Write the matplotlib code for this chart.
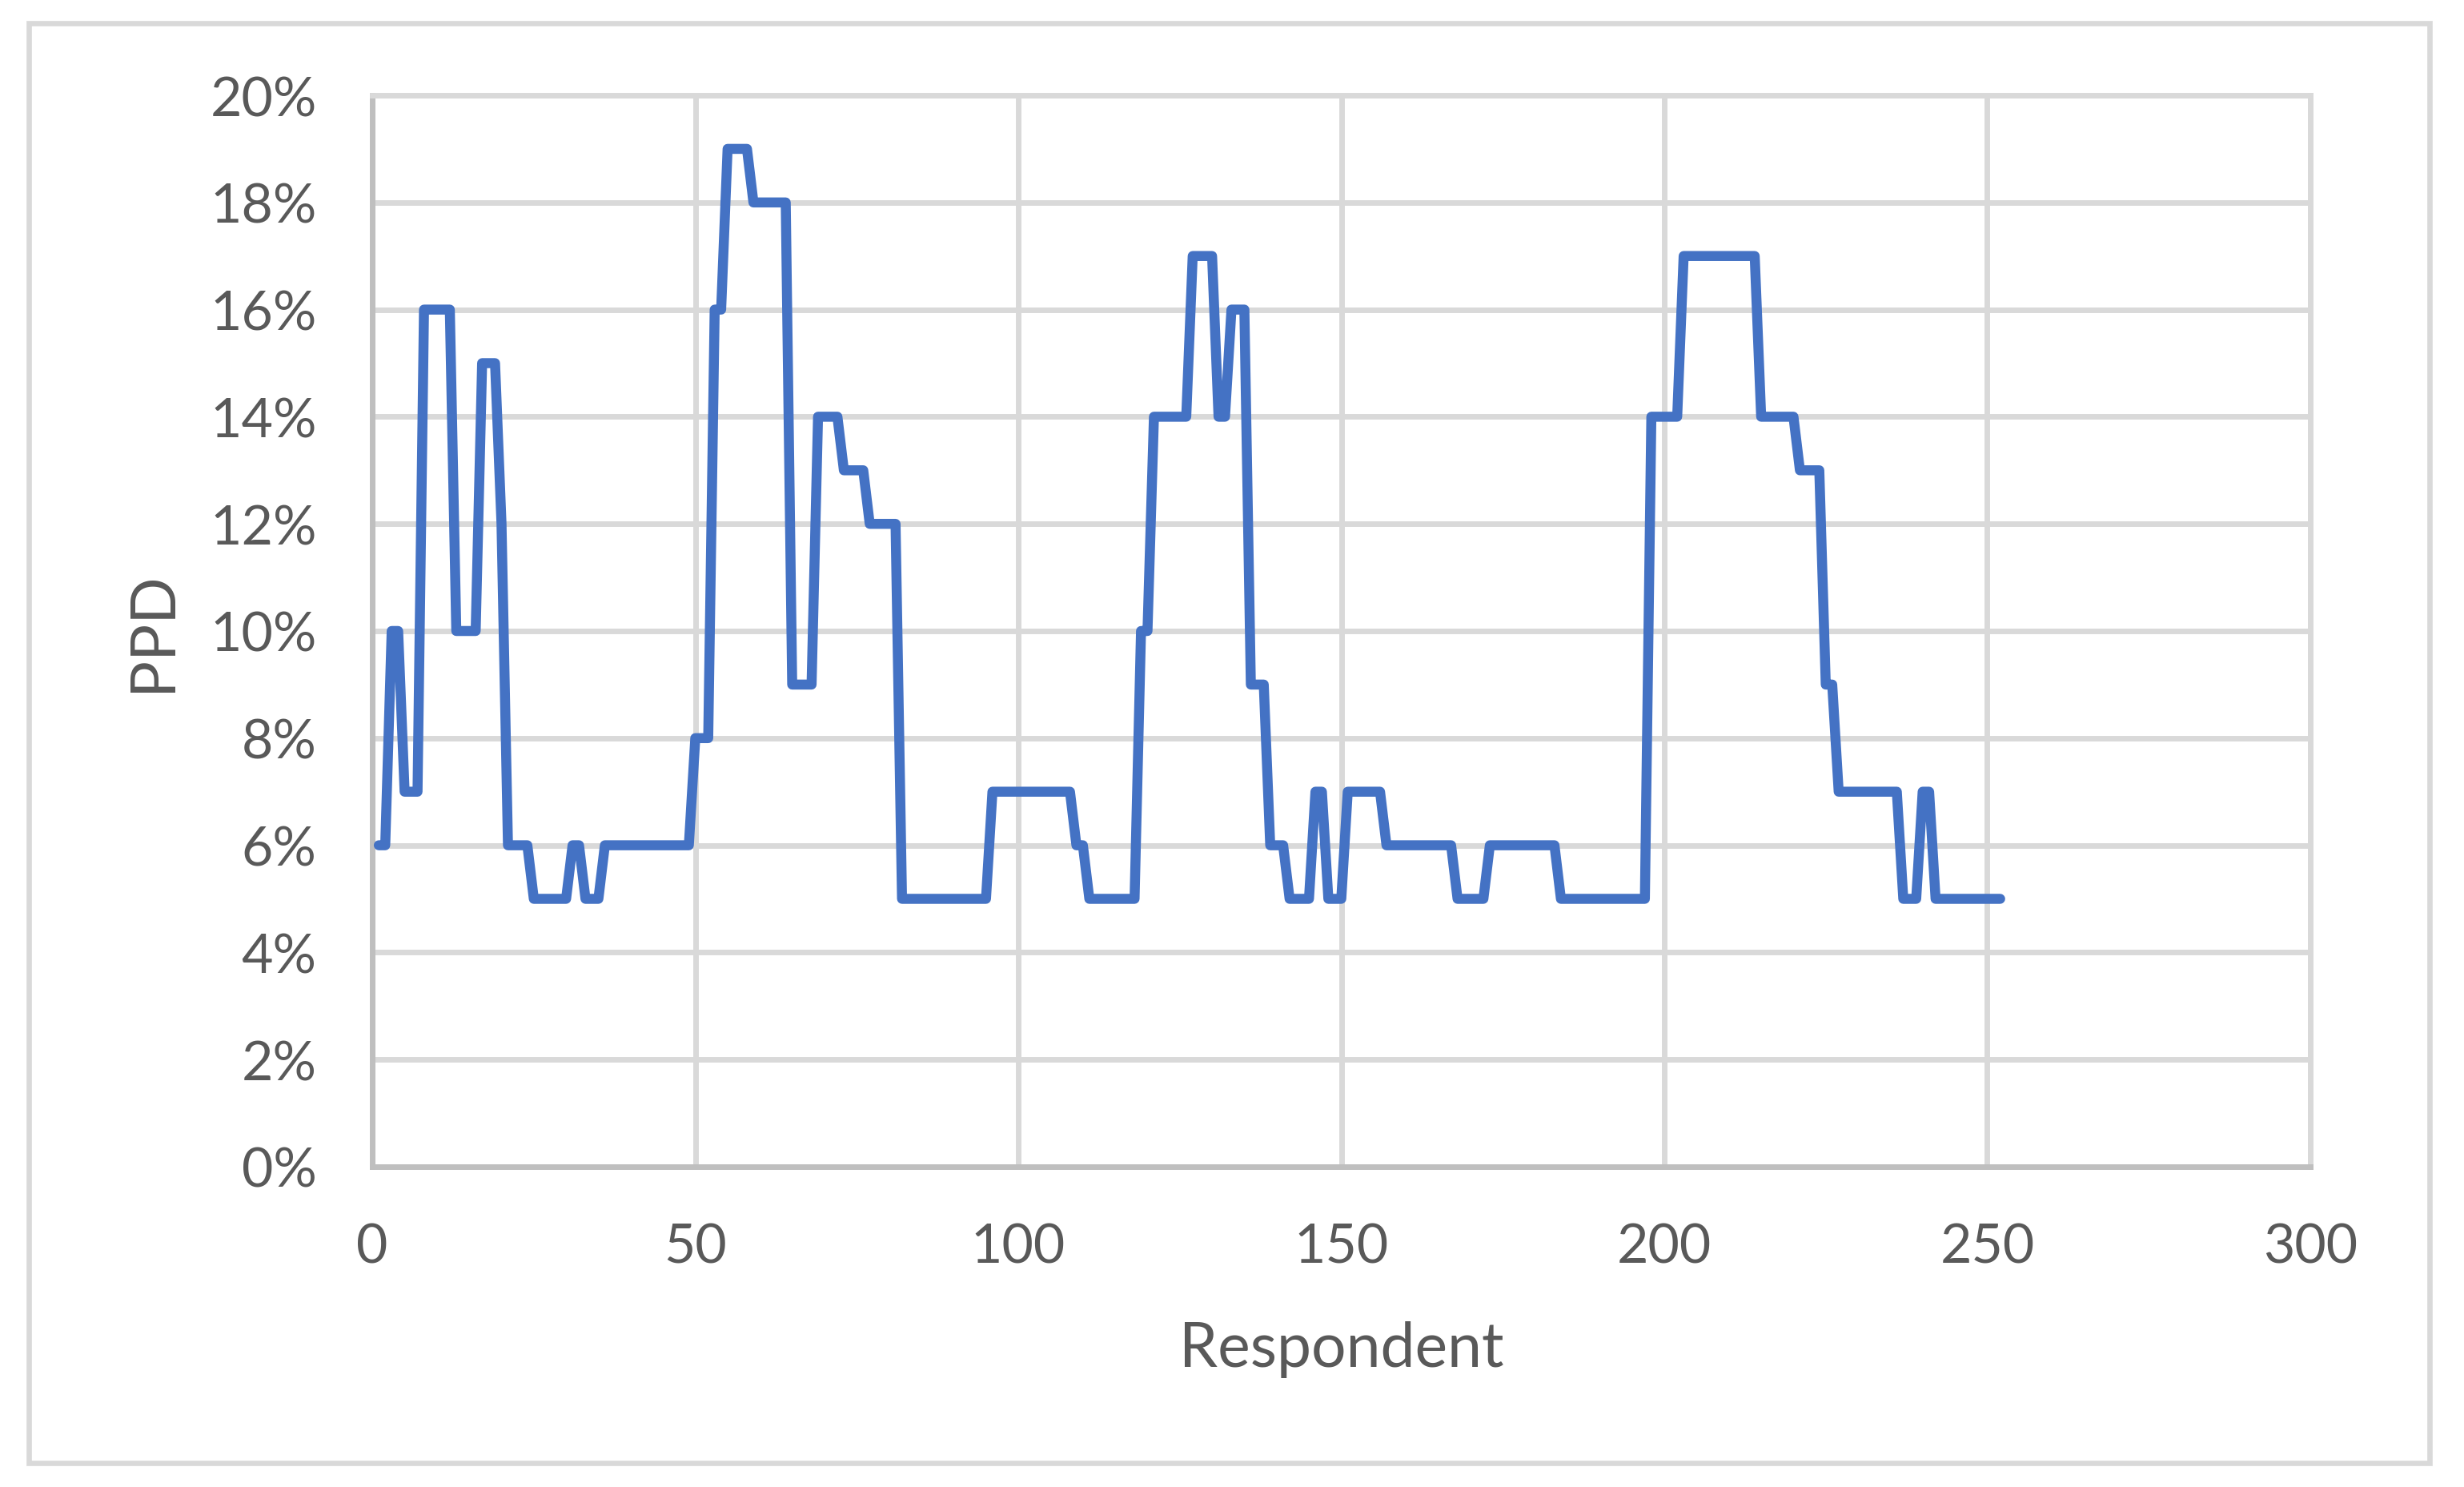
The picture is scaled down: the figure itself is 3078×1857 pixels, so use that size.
import numpy as np
import matplotlib
matplotlib.use("Agg")
import matplotlib.pyplot as plt
from matplotlib.patches import Rectangle
from matplotlib.ticker import PercentFormatter

# PPD (%) per respondent, 10 respondents per row
ppd = [
    6, 6, 10, 10, 7, 7, 7, 16, 16, 16,
    16, 16, 10, 10, 10, 10, 15, 15, 15, 12,
    6, 6, 6, 6, 5, 5, 5, 5, 5, 5,
    6, 6, 5, 5, 5, 6, 6, 6, 6, 6,
    6, 6, 6, 6, 6, 6, 6, 6, 6, 8,
    8, 8, 16, 16, 19, 19, 19, 19, 18, 18,
    18, 18, 18, 18, 9, 9, 9, 9, 14, 14,
    14, 14, 13, 13, 13, 13, 12, 12, 12, 12,
    12, 5, 5, 5, 5, 5, 5, 5, 5, 5,
    5, 5, 5, 5, 5, 7, 7, 7, 7, 7,
    7, 7, 7, 7, 7, 7, 7, 7, 6, 6,
    5, 5, 5, 5, 5, 5, 5, 5, 10, 10,
    14, 14, 14, 14, 14, 14, 17, 17, 17, 17,
    14, 14, 16, 16, 16, 9, 9, 9, 6, 6,
    6, 5, 5, 5, 5, 7, 7, 5, 5, 5,
    7, 7, 7, 7, 7, 7, 6, 6, 6, 6,
    6, 6, 6, 6, 6, 6, 6, 5, 5, 5,
    5, 5, 6, 6, 6, 6, 6, 6, 6, 6,
    6, 6, 6, 5, 5, 5, 5, 5, 5, 5,
    5, 5, 5, 5, 5, 5, 5, 14, 14, 14,
    14, 14, 17, 17, 17, 17, 17, 17, 17, 17,
    17, 17, 17, 17, 14, 14, 14, 14, 14, 14,
    13, 13, 13, 13, 9, 9, 7, 7, 7, 7,
    7, 7, 7, 7, 7, 7, 5, 5, 5, 7,
    7, 5, 5, 5, 5, 5, 5, 5, 5, 5,
    5, 5,
]
respondents = np.arange(1, len(ppd) + 1)

x_ticks = [0, 50, 100, 150, 200, 250, 300]
y_ticks = [0, 2, 4, 6, 8, 10, 12, 14, 16, 18, 20]

TEXT = "#595959"
GRID = "#D9D9D9"
AXIS = "#BFBFBF"
BLUE = "#4472C4"

plt.rcParams["font.family"] = ["Lato", "DejaVu Sans"]

fig = plt.figure(figsize=(15.39, 9.29), dpi=200)
ax = fig.add_axes([0.1511, 0.2153, 0.7865, 0.7201])

# Chart area border
fig.patches.append(Rectangle((0.0117, 0.0161), 0.9744, 0.9679,
                             transform=fig.transFigure, fill=False,
                             edgecolor=GRID, linewidth=2.4))

ax.plot(respondents, ppd, color=BLUE, linewidth=4.5,
        solid_joinstyle="round", solid_capstyle="round", zorder=3)

ax.set_xlim(0, 300)
ax.set_ylim(0, 20)
ax.set_xticks(x_ticks)
ax.set_yticks(y_ticks)
ax.yaxis.set_major_formatter(PercentFormatter(xmax=100, decimals=0))

ax.set_axisbelow(True)
ax.grid(True, color=GRID, linewidth=2.5)
for side in ["top", "right"]:
    ax.spines[side].set_color(GRID)
    ax.spines[side].set_linewidth(2.5)
for side in ["left", "bottom"]:
    ax.spines[side].set_color(AXIS)
    ax.spines[side].set_linewidth(2.5)

ax.tick_params(axis="both", length=0, labelsize=24.5, labelcolor=TEXT)
ax.tick_params(axis="y", pad=25)
ax.tick_params(axis="x", pad=25)

ax.set_xlabel("Respondent", fontsize=27.7, color=TEXT, va="baseline")
ax.xaxis.set_label_coords(0.5, -0.186)
ax.set_ylabel("PPD", fontsize=27.7, color=TEXT, va="center")
ax.yaxis.set_label_coords(-0.113, 0.5)

fig.savefig("out.png", dpi=200, facecolor="white")
